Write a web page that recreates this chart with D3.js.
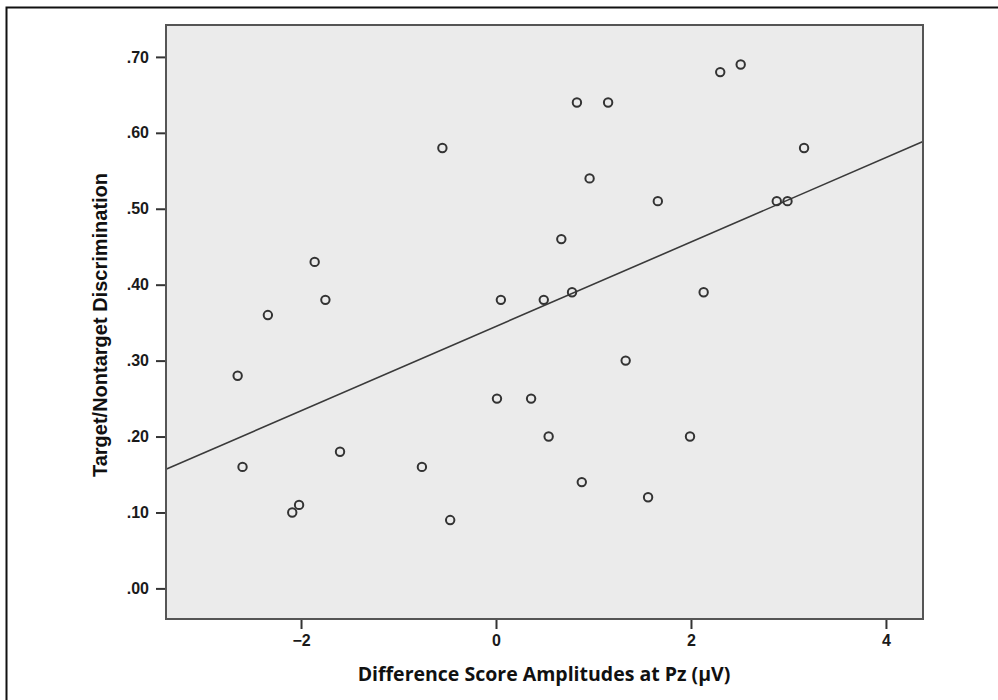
<!DOCTYPE html>
<html>
<head>
<meta charset="utf-8">
<script src="https://cdn.jsdelivr.net/npm/d3@7"></script>
<style>
  body { margin: 0; background: #fff; }
  svg { display: block; }
  .tick text { font-family: "Liberation Sans", Arial, sans-serif; font-weight: bold; font-size: 16px; fill: #1a1a1a; }
  .tick line { stroke: #333; stroke-width: 2; }
</style>
</head>
<body>
<svg></svg>
<script>
// ### data ###
var xVals = [-2.65, -2.60, -2.34, -2.09, -2.02, -1.86, -1.75, -1.60, -0.76, -0.55, -0.47,
             0.01, 0.05, 0.36, 0.49, 0.54, 0.67, 0.78, 0.83, 0.88, 0.96, 1.15, 1.33,
             1.56, 1.66, 1.99, 2.13, 2.30, 2.51, 2.88, 2.99, 3.16]
var yVals = [0.28, 0.16, 0.36, 0.10, 0.11, 0.43, 0.38, 0.18, 0.16, 0.58, 0.09,
             0.25, 0.38, 0.25, 0.38, 0.20, 0.46, 0.39, 0.64, 0.14, 0.54, 0.64, 0.30,
             0.12, 0.51, 0.20, 0.39, 0.68, 0.69, 0.51, 0.51, 0.58]
var fitIntercept = 0.345
var fitSlope = 0.0556
var xTicks = [-2, 0, 2, 4]
var yTicks = [0, 0.1, 0.2, 0.3, 0.4, 0.5, 0.6, 0.7]
var xTitle = 'Difference Score Amplitudes at Pz (\u00b5V)'
var yTitle = 'Target/Nontarget Discrimination'

var points = xVals.map((x, i) => ({x: x, y: yVals[i]}))

// ### canvas ###
var W = 998, H = 700
var plot = {left: 166, right: 923, top: 25, bottom: 619}

var svg = d3.select('svg')
      .attr('width', W)
      .attr('height', H)

// outer frame
svg.append('rect')
   .attr('x', 6.5).attr('y', 7.5)
   .attr('width', 1100).attr('height', 1100)
   .attr('fill', 'none')
   .attr('stroke', '#111')
   .attr('stroke-width', 2)

// ### scales ###
var xScale = d3.scaleLinear()
        .domain([-3.385, 4.38])
        .range([plot.left, plot.right])
var yScale = d3.scaleLinear()
        .domain([-0.0403, 0.742])
        .range([plot.bottom, plot.top])

// plot background
svg.append('rect')
   .attr('x', plot.left).attr('y', plot.top)
   .attr('width', plot.right - plot.left)
   .attr('height', plot.bottom - plot.top)
   .attr('fill', '#ebebeb')

// ### axes ###
var fmtY = d => d3.format('.2f')(d).replace(/^0/, '')
var fmtX = d => d < 0 ? '\u2212' + Math.abs(d) : String(d)

var yAxis = d3.axisLeft(yScale)
        .tickValues(yTicks)
        .tickFormat(fmtY)
        .tickSize(10)
        .tickPadding(7)
var xAxis = d3.axisBottom(xScale)
        .tickValues(xTicks)
        .tickFormat(fmtX)
        .tickSize(10)
        .tickPadding(6)

svg.append('g')
   .attr('transform', `translate(${plot.left},0)`)
   .call(yAxis)
   .call(g => g.select('.domain').remove())

svg.append('g')
   .attr('transform', `translate(0,${plot.bottom})`)
   .call(xAxis)
   .call(g => g.select('.domain').remove())

// ### fit line ###
var x0 = xScale.domain()[0], x1 = xScale.domain()[1]
svg.append('line')
   .attr('x1', xScale(x0)).attr('y1', yScale(fitIntercept + fitSlope * x0))
   .attr('x2', xScale(x1)).attr('y2', yScale(fitIntercept + fitSlope * x1))
   .attr('stroke', '#3a3a3a')
   .attr('stroke-width', 1.6)

// ### points ###
svg.selectAll('circle.pt')
   .data(points)
   .enter()
   .append('circle')
   .attr('class', 'pt')
   .attr('cx', d => xScale(d.x))
   .attr('cy', d => yScale(d.y))
   .attr('r', 4.2)
   .attr('fill', 'none')
   .attr('stroke', '#333')
   .attr('stroke-width', 2)

// plot border
svg.append('rect')
   .attr('x', plot.left).attr('y', plot.top)
   .attr('width', plot.right - plot.left)
   .attr('height', plot.bottom - plot.top)
   .attr('fill', 'none')
   .attr('stroke', '#555')
   .attr('stroke-width', 2)

// ### titles ###
svg.append('text')
   .attr('x', 544)
   .attr('y', 681)
   .attr('text-anchor', 'middle')
   .style('font-family', '"Open Sans", sans-serif')
   .style('font-weight', 'bold')
   .style('font-size', '19.5px')
   .style('fill', '#111')
   .text(xTitle)

svg.append('text')
   .attr('transform', 'translate(107,325) rotate(-90)')
   .attr('text-anchor', 'middle')
   .style('font-family', '"Liberation Sans", Arial, sans-serif')
   .style('font-weight', 'bold')
   .style('font-size', '20px')
   .style('fill', '#111')
   .text(yTitle)
</script>
</body>
</html>
